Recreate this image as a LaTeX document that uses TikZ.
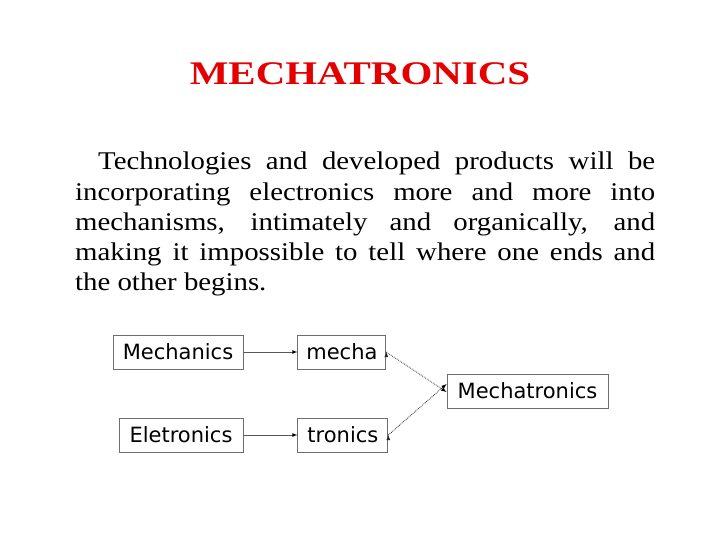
\documentclass[tikz,border=0pt]{standalone}
\usepackage{fontspec}
\setmainfont{Liberation Serif}
\newfontfamily\bodyfont[FakeStretch=1.13]{Liberation Serif}
\newfontfamily\boxfont{DejaVu Sans}
\usetikzlibrary{arrows,positioning}
\definecolor{titlered}{RGB}{228,0,0}
\definecolor{boxgray}{RGB}{110,110,110}
\tikzstyle{part}=[rectangle,draw=boxgray,line width=0.9pt,inner sep=0pt,
minimum height=34pt,font=\boxfont\fontsize{21}{24}\selectfont]
\tikzstyle{link}=[-latex,draw=boxgray!80!black,line width=0.8pt]
\tikzstyle{merge}=[-latex,draw=black!85,line width=0.8pt,densely dotted]

\begin{document}
\begin{tikzpicture}[x=1pt,y=-1pt,node distance=54pt]
            \useasboundingbox (0,0) rectangle (720,540);

            % TITLE

            \node[text=titlered,font=\bfseries\fontsize{33}{36}\selectfont,xscale=1.24] (title) at (360,74) {MECHATRONICS};

            % TEXT

            \node[anchor=base west,inner sep=0pt] (para) at (75,170) {\parbox[t]{580pt}{\bodyfont\fontsize{25.5}{30.2}\selectfont
            \hspace*{23pt}Technologies and developed products will be\linebreak
            incorporating electronics more and more into\linebreak
            mechanisms, intimately and organically, and\linebreak
            making it impossible to tell where one ends and\linebreak
            the other begins.}};

            % PARTS

            \node[part,minimum width=130pt] (mech) at (178,352) {Mechanics};
            \node[part,minimum width=88pt,right=54pt of mech] (mecha) {mecha};
            \node[part,minimum width=124pt] (elec) at (181,435) {Eletronics};
            \node[part,minimum width=90pt,right=54pt of elec] (tronics) {tronics};
            \node[part,minimum width=161pt] (mtx) at (527.5,391) {Mechatronics};

            \path[link] (mech) edge node {} (mecha);
            \path[link] (elec) edge node {} (tronics);
            \path[merge] (mecha.east) edge node {} ([yshift=-1pt]mtx.west);
            \path[merge] (tronics.east) edge node {} ([yshift=7pt]mtx.west);

\end{tikzpicture}
\end{document}
